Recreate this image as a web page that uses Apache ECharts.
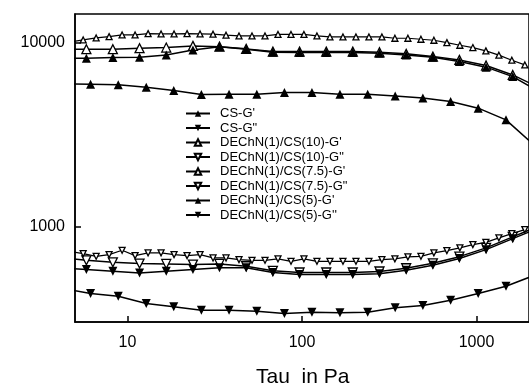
<!DOCTYPE html>
<html><head><meta charset="utf-8">
<script src="https://cdn.jsdelivr.net/npm/echarts@6/dist/echarts.min.js"></script>
<style>html,body{margin:0;padding:0;background:#fff}#c{width:529px;height:387px}</style>
</head><body><div id="c"></div>
<script>
// Tau (Pa) sampling points
const xCS = [4.27, 6.14, 8.85, 12.8, 18.4, 26.5, 38.2, 55.1, 79.3, 114, 165, 238, 342, 493, 711, 1023, 1476, 2128];
const xMid = [4.08, 5.81, 8.24, 11.72, 16.67, 23.71, 33.65, 47.86, 68.08, 96.8, 137.7, 195.4, 278, 395.4, 562.3, 798, 1135, 1614, 2296];
const xFine = [4.69, 5.57, 6.61, 7.84, 9.31, 11.05, 13.12, 15.57, 18.48, 21.94, 26.04, 30.91, 36.69, 43.55, 51.70, 61.37, 72.85, 86.48, 102.6, 121.8, 144.6, 171.7, 203.8, 241.9, 287.1, 340.8, 404.6, 480.4, 570.1, 676.8, 803.3, 953.5, 1132, 1344, 1595, 1893];

const csG1 = [5980, 5950, 5900, 5730, 5500, 5230, 5250, 5250, 5360, 5360, 5250, 5250, 5140, 5000, 4790, 4410, 3810, 2790];
const csG2 = [463, 435, 421, 384, 369, 353, 353, 349, 339, 345, 342, 345, 364, 375, 400, 435, 477, 545];
const c10G1 = [9200, 9210, 9210, 9330, 9400, 9600, 9510, 9250, 8940, 8940, 8940, 8940, 8870, 8690, 8400, 8060, 7510, 6680, 5685];
const c10G2 = [682, 659, 643, 633, 630, 625, 630, 612, 578, 566, 566, 566, 573, 597, 635, 690, 770, 883, 1016];
const c75G1 = [10090, 10340, 10600, 10780, 11010, 11010, 11190, 11150, 11150, 11190, 11150, 11110, 10970, 10870, 10870, 10870, 11080, 11080, 11080, 10870, 10740, 10740, 10740, 10740, 10740, 10560, 10560, 10430, 10300, 10000, 9680, 9400, 9020, 8550, 8030, 7570];
const c75G2 = [735, 717, 693, 708, 747, 699, 723, 723, 708, 699, 708, 679, 679, 665, 659, 659, 671, 651, 671, 651, 651, 651, 651, 651, 665, 671, 688, 693, 723, 744, 770, 802, 825, 872, 920, 967];
const c5G1 = [8220, 8230, 8300, 8340, 8580, 9130, 9510, 9210, 8870, 8830, 8830, 8830, 8760, 8580, 8340, 7890, 7360, 6540, 5407];
const c5G2 = [602, 587, 575, 563, 575, 587, 600, 600, 566, 552, 552, 552, 558, 582, 619, 674, 753, 864, 991];

const names = ["CS-G'", 'CS-G"', "DEChN(1)/CS(10)-G'", 'DEChN(1)/CS(10)-G"', "DEChN(1)/CS(7.5)-G'", 'DEChN(1)/CS(7.5)-G"', "DEChN(1)/CS(5)-G'", "DEChN(1)/CS(5)-G''"];

function zip(xs, ys) { return xs.map((x, i) => [x, ys[i]]); }
function mk(name, xs, ys, filled, down, size, lw) {
  return {
    name, type: 'line', data: zip(xs, ys),
    symbol: 'triangle', symbolSize: size, symbolRotate: down ? 180 : 0,
    showAllSymbol: true, clip: true,
    lineStyle: { color: '#000', width: lw },
    itemStyle: { color: filled ? '#000' : '#fff', borderColor: '#000', borderWidth: filled ? 0 : 1.3 },
    emphasis: { disabled: true }
  };
}

const chart = echarts.init(document.getElementById('c'));
const FONT = 'Liberation Sans, Arial, sans-serif';
chart.setOption({
  animation: false,
  grid: { left: 75, top: 14, right: -9.5, bottom: 65, show: true, borderColor: '#000', borderWidth: 1.5 },
  legend: {
    orient: 'vertical', left: 185, top: 107, padding: 0,
    itemWidth: 24, itemHeight: 8, itemGap: 1.5,
    textStyle: { fontFamily: FONT, fontSize: 13, lineHeight: 12, color: '#000', padding: [0, 0, 0, 5] },
    data: names
  },
  xAxis: {
    type: 'log', logBase: 10, min: 5, max: 2000,
    axisLine: { lineStyle: { color: '#000', width: 1.5 } },
    axisTick: { inside: true, length: 6, lineStyle: { color: '#000', width: 1.5 } },
    minorTick: { show: false },
    splitLine: { show: false },
    axisLabel: { showMinLabel: false, showMaxLabel: false, fontFamily: FONT, fontSize: 16, color: '#000', margin: 13,
      formatter: v => String(Math.round(v)) }
  },
  yAxis: {
    type: 'log', logBase: 10, min: 305, max: 14300,
    axisLine: { show: true, lineStyle: { color: '#000', width: 1.5 } },
    axisTick: { show: true, inside: true, length: 6, lineStyle: { color: '#000', width: 1.5 } },
    splitLine: { show: false },
    axisLabel: { showMinLabel: false, showMaxLabel: false, fontFamily: FONT, fontSize: 16, color: '#000', margin: 10,
      padding: [10, 0, 0, 0], formatter: v => String(Math.round(v)) }
  },
  graphic: [{
    type: 'text', left: 256, top: 367,
    style: { text: 'Tau  in Pa', fontFamily: FONT, fontSize: 21, fill: '#000' }
  }],
  series: [
    mk(names[0], xCS, csG1, true, false, 9, 1.5),
    mk(names[1], xCS, csG2, true, true, 9, 1.5),
    mk(names[2], xMid, c10G1, false, false, 9, 1.5),
    mk(names[3], xMid, c10G2, false, true, 9, 1.5),
    mk(names[4], xFine, c75G1, false, false, 6, 1.2),
    mk(names[5], xFine, c75G2, false, true, 6, 1.2),
    mk(names[6], xMid, c5G1, true, false, 9, 1.5),
    mk(names[7], xMid, c5G2, true, true, 9, 1.5)
  ]
});
</script></body></html>
